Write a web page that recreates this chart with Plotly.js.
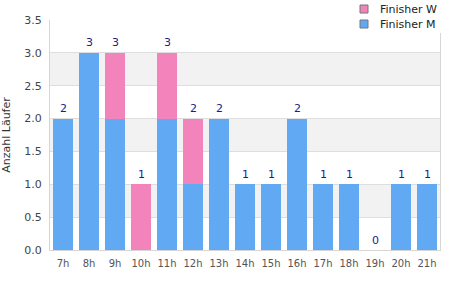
<!DOCTYPE html>
<html>
<head>
<meta charset="utf-8">
<script src="https://cdn.plot.ly/plotly-3.0.1.min.js"></script>
<style>html,body{margin:0;padding:0;background:#fff}#chart{width:450px;height:300px}</style>
</head>
<body>
<div id="chart"></div>
<script>
// Finishers per start hour, split by men and women
const hours = ["7h","8h","9h","10h","11h","12h","13h","14h","15h","16h","17h","18h","19h","20h","21h"];
const finisherM = [2, 3, 2, 0, 2, 1, 2, 1, 1, 2, 1, 1, 0, 1, 1];
const finisherW = [0, 0, 1, 1, 1, 1, 0, 0, 0, 0, 0, 0, 0, 0, 0];
const totals = hours.map((h, i) => finisherM[i] + finisherW[i]);

const seriesNames = ["Finisher M", "Finisher W"];
const seriesColors = ["#61a9f3", "#f383bb"];

const yMax = 3.5, yStep = 0.5;

const shapes = [];
// alternating light bands behind the bars
for (let k = 1; k * yStep < yMax; k += 2) {
  shapes.push({type: "rect", xref: "paper", yref: "y", x0: 0, x1: 1,
    y0: k * yStep, y1: (k + 1) * yStep, fillcolor: "#f2f2f2", line: {width: 0}, layer: "below"});
}

// total count written above each stack
const annotations = hours.map((h, i) => ({
  x: h, y: totals[i], text: String(totals[i]), showarrow: false,
  yanchor: "middle", yshift: 10,
  font: {family: "DejaVu Sans", size: 11, color: "#1c1c8a"}
}));

// compact legend in the top right corner (women listed first)
shapes.push({type: "rect", xref: "paper", yref: "paper", xsizemode: "pixel", ysizemode: "pixel",
  xanchor: 1, yanchor: 1, x0: -67, x1: 10, y0: -13, y1: 20,
  fillcolor: "#fff", line: {width: 0}, layer: "above"});
[1, 0].forEach((s, row) => {
  const top = 15 - row * 15;
  shapes.push({type: "rect", xref: "paper", yref: "paper", xsizemode: "pixel", ysizemode: "pixel",
    xanchor: 1, yanchor: 1, x0: -80, x1: -72, y0: top - 8, y1: top,
    fillcolor: seriesColors[s], line: {color: "#777", width: 1}, layer: "above"});
  annotations.push({xref: "paper", yref: "paper", x: 1, y: 1, xshift: -62, yshift: top - 4,
    xanchor: "left", yanchor: "middle", showarrow: false, text: seriesNames[s],
    font: {family: "DejaVu Sans", size: 11, color: "#222"}});
});

const traces = seriesNames.map((name, s) => ({
  type: "bar", name: name, x: hours, y: s === 0 ? finisherM : finisherW,
  marker: {color: seriesColors[s]}, hoverinfo: "skip"
}));

const layout = {
  width: 450, height: 300,
  margin: {l: 50, r: 10, t: 20, b: 50, autoexpand: false},
  paper_bgcolor: "#fff", plot_bgcolor: "rgba(0,0,0,0)",
  barmode: "stack", bargap: 0.25, showlegend: false,
  font: {family: "DejaVu Sans", size: 11, color: "#444"},
  shapes: shapes,
  annotations: annotations,
  xaxis: {type: "category", showgrid: false, showline: true, linecolor: "#d6d6d6",
    ticks: "", ticklabelstandoff: 4, tickfont: {size: 10, color: "#555"}},
  yaxis: {range: [0, yMax], dtick: yStep, tickformat: ".1f", showgrid: true, gridcolor: "#dedede",
    showline: true, linecolor: "#d6d6d6", mirror: true, zeroline: false, ticks: "",
    ticklabelstandoff: 5, tickfont: {size: 11, color: "#444"},
    title: {text: "Anzahl Läufer", font: {size: 11, color: "#333"}, standoff: 12}}
};

Plotly.newPlot("chart", traces, layout, {displayModeBar: false, staticPlot: true});
</script>
</body>
</html>
